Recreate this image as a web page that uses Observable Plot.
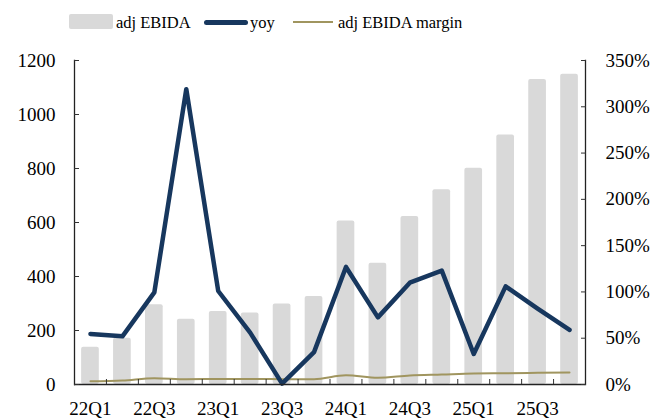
<!DOCTYPE html>
<html><head><meta charset="utf-8">
<script src="https://cdn.jsdelivr.net/npm/d3@7"></script>
<script src="https://cdn.jsdelivr.net/npm/@observablehq/plot@0.6"></script>
<style>
html,body{margin:0;padding:0;overflow:hidden;background:#fff;}
body{font-family:"Liberation Serif","Times New Roman",serif;width:654px;height:418px;}
#legend{height:40px;position:relative;font-size:16.5px;color:#000;}
#legend .it{position:absolute;top:11px;height:22px;line-height:22px;white-space:nowrap;}
#legend .sw{position:absolute;}
#chart svg{display:block;max-width:none !important;}
</style></head><body>
<div id="legend"></div><div id="chart"></div>
<script>
const quarters = ["22Q1","22Q2","22Q3","22Q4","23Q1","23Q2","23Q3","23Q4","24Q1","24Q2","24Q3","24Q4","25Q1","25Q2","25Q3","25Q4"];
const ebida = [138,171,295,242,270,265,298,326,606,449,622,721,801,924,1130,1149];
const yoy = [54.6,52,99.5,319,101,56,1,35,127,72.5,110,123,33,106,82,59];
const margin = [3.4,4.3,6.8,5.7,6,6,5.8,5.8,10,7.3,9.7,10.8,11.9,12.2,12.6,12.9];
const xLabels = ["22Q1","22Q3","23Q1","23Q3","24Q1","24Q3","25Q1","25Q3"];
const leftTicks = [0,200,400,600,800,1000,1200];
const rightTicksPct = [0,50,100,150,200,250,300,350];
const seriesNames = ["adj EBIDA","yoy","adj EBIDA margin"];

const C_BAR = "#d9d9d9", C_YOY = "#17375e", C_MAR = "#a0955f";
const k = 1200/350;
const rows = quarters.map((q,i)=>({q, ebida: ebida[i], yoy: yoy[i], margin: margin[i]}));

// legend
const lg = document.getElementById("legend");
lg.innerHTML = `
 <div class="sw" style="left:69px;top:14px;width:44px;height:15px;background:${C_BAR};border-radius:2px"></div>
 <div class="it" style="left:116px;top:12px">${seriesNames[0]}</div>
 <div class="sw" style="left:204px;top:20px;width:44px;height:4.5px;background:${C_YOY};border-radius:3px"></div>
 <div class="it" style="left:250px;top:12px">${seriesNames[1]}</div>
 <div class="sw" style="left:293px;top:21px;width:40px;height:2px;background:${C_MAR}"></div>
 <div class="it" style="left:338px;top:12px">${seriesNames[2]}</div>`;

const W = 654, H = 378, mL = 74, mR = 69;
const step = (W - mL - mR) / quarters.length;
const FS = 19;

const chart = Plot.plot({
  width: W, height: H,
  marginLeft: mL, marginRight: mR, marginTop: 20, marginBottom: 34,
  style: {fontFamily: '"Liberation Serif","Times New Roman",serif', fontSize: FS + "px", background: "#fff", color: "#000"},
  x: {type: "band", domain: quarters, paddingInner: 0.446, paddingOuter: 0.223, round: false, label: null},
  y: {domain: [0, 1200], label: null},
  marks: [
    Plot.barY(rows, {x: "q", y: "ebida", fill: C_BAR, rx: 2}),
    Plot.line(rows, {x: "q", y: d => d.margin * k, stroke: C_MAR, strokeWidth: 2, curve: "monotone-x"}),
    Plot.line(rows, {x: "q", y: d => d.yoy * k, stroke: C_YOY, strokeWidth: 4.5, strokeLinejoin: "round", strokeLinecap: "round"}),
    Plot.frame({anchor: "left", stroke: "#222", strokeWidth: 1.3}),
    Plot.frame({anchor: "right", stroke: "#222", strokeWidth: 1.3}),
    Plot.ruleY([0], {stroke: "#222", strokeWidth: 1.6}),
    Plot.axisY(leftTicks, {anchor: "left", tickSize: -5, tickFormat: () => "", label: null, stroke: "#333"}),
    Plot.axisY(leftTicks, {anchor: "left", tickSize: 0, tickPadding: 19, fontSize: FS, label: null, tickFormat: d => String(d)}),
    Plot.axisY(rightTicksPct.map(p => p * k), {anchor: "right", tickSize: -5, tickFormat: () => "", label: null, stroke: "#333"}),
    Plot.axisY(rightTicksPct.map(p => p * k), {anchor: "right", tickSize: 0, tickPadding: 20, fontSize: FS, label: null, tickFormat: d => Math.round(d / k) + "%"}),
    Plot.axisX(quarters.slice(1), {anchor: "bottom", tickSize: -5, tickFormat: () => "", dx: -step / 2, label: null, stroke: "#333"}),
    Plot.axisX(xLabels, {anchor: "bottom", tickSize: 0, tickPadding: 17, fontSize: FS, label: null})
  ]
});
document.getElementById("chart").appendChild(chart);
</script>
</body></html>
